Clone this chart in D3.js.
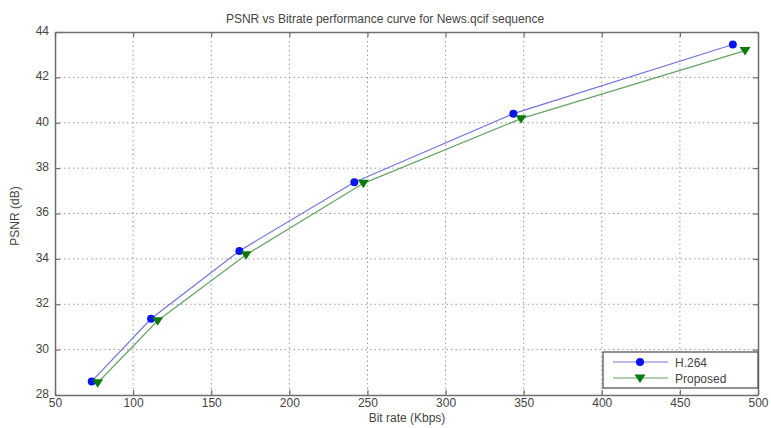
<!DOCTYPE html>
<html>
<head>
<meta charset="utf-8">
<script src="https://cdn.jsdelivr.net/npm/d3@7"></script>
<style>
  html, body { margin: 0; padding: 0; background: #fff; }
  svg { display: block; font-family: "Liberation Sans", Arial, sans-serif; }
</style>
</head>
<body>
<svg id="chart" width="771" height="428"></svg>
<script>
// Rate-distortion points for the News.qcif sequence
const bitrateH264 = [73.5, 111.5, 168, 241.6, 343.4, 483.9];
const psnrH264    = [28.6, 31.36, 34.35, 37.38, 40.4, 43.45];
const bitrateProposed = [77.3, 115.7, 172.3, 247.4, 348.3, 491.7];
const psnrProposed    = [28.54, 31.27, 34.18, 37.33, 40.18, 43.18];

const xTicks = [50, 100, 150, 200, 250, 300, 350, 400, 450, 500];
const yTicks = [28, 30, 32, 34, 36, 38, 40, 42, 44];

const seriesNames = ["H.264", "Proposed"];

(function () {
const svg = d3.select("#chart");
const plotLeft = 55, plotRight = 758, plotTop = 32, plotBottom = 395;

const x = d3.scaleLinear().domain([50, 500]).range([plotLeft, plotRight]);
const y = d3.scaleLinear().domain([28, 44]).range([plotBottom, plotTop]);

const textColor = "#444";
const axisColor = "#6e6e6e";

// dotted grid
const grid = svg.append("g");
grid.selectAll("line.gx").data(xTicks.slice(1, -1)).join("line")
  .attr("x1", d => x(d)).attr("x2", d => x(d))
  .attr("y1", plotTop).attr("y2", plotBottom)
  .attr("stroke", "#9a9a9a").attr("stroke-width", 1).attr("stroke-dasharray", "1.5,3");
grid.selectAll("line.gy").data(yTicks.slice(1, -1)).join("line")
  .attr("x1", plotLeft).attr("x2", plotRight)
  .attr("y1", d => y(d)).attr("y2", d => y(d))
  .attr("stroke", "#9a9a9a").attr("stroke-width", 1).attr("stroke-dasharray", "1.5,3");

// axes with inward ticks
const xAxis = svg.append("g").attr("transform", `translate(0,${plotBottom})`)
  .call(d3.axisBottom(x).tickValues(xTicks).tickSizeInner(-5).tickSizeOuter(0).tickPadding(6));
const xAxisTop = svg.append("g").attr("transform", `translate(0,${plotTop})`)
  .call(d3.axisTop(x).tickValues(xTicks).tickSizeInner(-5).tickSizeOuter(0).tickFormat(""));
const yAxis = svg.append("g").attr("transform", `translate(${plotLeft},0)`)
  .call(d3.axisLeft(y).tickValues(yTicks).tickSizeInner(-5).tickSizeOuter(0).tickPadding(6));
const yAxisRight = svg.append("g").attr("transform", `translate(${plotRight},0)`)
  .call(d3.axisRight(y).tickValues(yTicks).tickSizeInner(-5).tickSizeOuter(0).tickFormat(""));

[xAxis, xAxisTop, yAxis, yAxisRight].forEach(g => {
  g.select(".domain").attr("stroke", axisColor).attr("stroke-width", 1.5);
  g.selectAll(".tick line").attr("stroke", axisColor).attr("stroke-width", 1.2);
  g.selectAll(".tick text").attr("fill", textColor).attr("font-size", 12)
    .attr("font-family", "Liberation Sans, Arial, sans-serif");
});
yAxis.selectAll(".tick text").attr("dy", "0.2em");
xAxis.selectAll(".tick text").attr("dy", "0.5em");

// curves
const line = d3.line().x(d => x(d[0])).y(d => y(d[1]));
const h264 = bitrateH264.map((b, i) => [b, psnrH264[i]]);
const prop = bitrateProposed.map((b, i) => [b, psnrProposed[i]]);

const blueLine = "#7373dc", blueMark = "#0a14f0";
const greenLine = "#66a366", greenMark = "#0b7a0b";

svg.append("path").datum(h264).attr("d", line)
  .attr("fill", "none").attr("stroke", blueLine).attr("stroke-width", 1.2);
svg.append("path").datum(prop).attr("d", line)
  .attr("fill", "none").attr("stroke", greenLine).attr("stroke-width", 1.2);

const circleSym = d3.symbol().type(d3.symbolCircle).size(50);
const triDown = "M-5.5,-3.5 L5.5,-3.5 L0,5 Z";

svg.append("g").selectAll("path").data(h264).join("path")
  .attr("d", circleSym).attr("transform", d => `translate(${x(d[0])},${y(d[1])})`)
  .attr("fill", blueMark);
svg.append("g").selectAll("path").data(prop).join("path")
  .attr("d", triDown).attr("transform", d => `translate(${x(d[0])},${y(d[1])})`)
  .attr("fill", greenMark);

// title and axis labels
svg.append("text").attr("x", 385).attr("y", 23).attr("text-anchor", "middle")
  .attr("font-size", 12).attr("fill", textColor)
  .text("PSNR vs Bitrate performance curve for News.qcif sequence");
svg.append("text").attr("x", 407).attr("y", 422).attr("text-anchor", "middle")
  .attr("font-size", 12).attr("fill", textColor).text("Bit rate (Kbps)");
svg.append("text").attr("transform", "translate(19,216) rotate(-90)").attr("text-anchor", "middle")
  .attr("font-size", 12).attr("fill", textColor).text("PSNR (dB)");

// legend
const lg = svg.append("g");
lg.append("rect").attr("x", 603).attr("y", 352).attr("width", plotRight - 603).attr("height", 36)
  .attr("fill", "#fff").attr("stroke", "#555").attr("stroke-width", 1.3);
const rows = [
  { name: seriesNames[0], y: 362, stroke: blueLine, mark: blueMark, sym: circleSym() },
  { name: seriesNames[1], y: 378, stroke: greenLine, mark: greenMark, sym: triDown }
];
rows.forEach(r => {
  lg.append("line").attr("x1", 613).attr("x2", 668).attr("y1", r.y).attr("y2", r.y)
    .attr("stroke", r.stroke).attr("stroke-width", 1.2);
  lg.append("path").attr("d", r.sym).attr("transform", `translate(640,${r.y})`).attr("fill", r.mark);
  lg.append("text").attr("x", 675).attr("y", r.y + 4.5).attr("font-size", 12)
    .attr("fill", textColor).text(r.name);
});
})();
</script>
</body>
</html>
